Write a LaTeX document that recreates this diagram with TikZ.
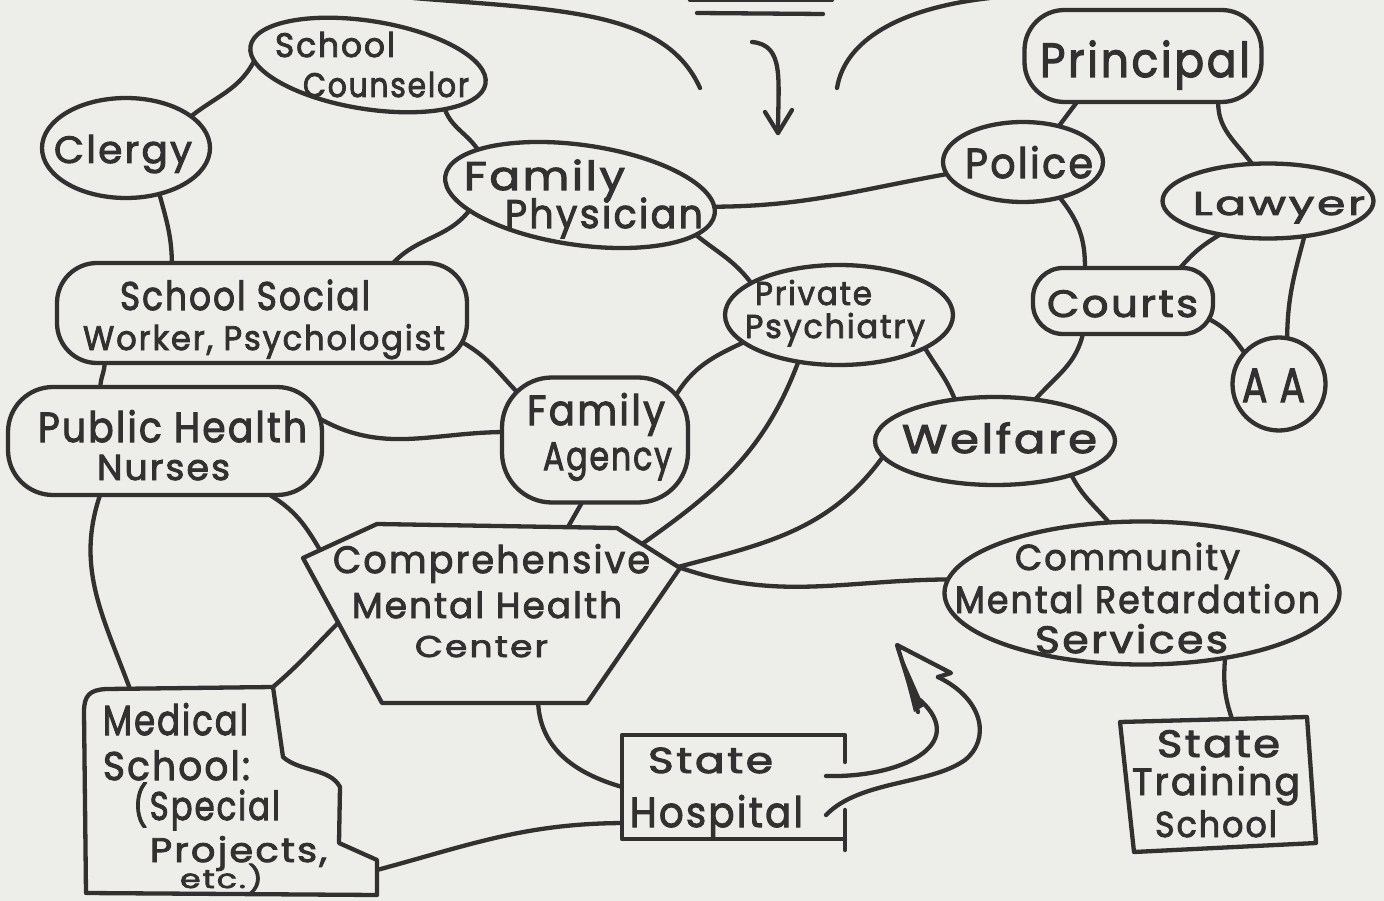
\documentclass[tikz,border=0pt]{standalone}
\usepackage{fontspec}
\setmainfont{Poppins}[LetterSpace=6, FakeBold=2.5]
\usepackage{graphicx}
\usetikzlibrary{shapes.geometric}
\definecolor{bg}{RGB}{237,237,233}
\definecolor{ink}{RGB}{50,48,48}
\pgfdeclarelayer{background}
\pgfsetlayers{background,main}
\newcommand{\hand}[3]{\resizebox{#1pt}{\height}{\fontsize{#2}{#2}\selectfont #3}}
\begin{document}
\begin{tikzpicture}[x=1pt,y=1pt,
  shp/.style={draw=ink, line width=4.3pt, fill=bg, inner sep=0pt, outer sep=0pt, line join=round},
  conn/.style={draw=ink, line width=4.3pt, line cap=round, shorten <=-5pt, shorten >=-5pt},
  lbl/.style={anchor=base west, inner sep=0pt, outer sep=0pt, text=ink},
  inkline/.style={draw=ink, line width=4.3pt, line cap=round, line join=round}]
\useasboundingbox (0,0) rectangle (1384,-901);
% shapes
\node[shp, ellipse, rotate=-9, minimum width=238pt, minimum height=88pt] (sc) at (368,-65) {};
\node[shp, ellipse, minimum width=168pt, minimum height=100pt] (clergy) at (126,-148) {};
\node[shp, ellipse, rotate=-8, minimum width=272pt, minimum height=100pt] (fp) at (580,-195) {};
\node[shp, ellipse, minimum width=160pt, minimum height=80pt] (police) at (1023,-162) {};
\node[shp, rounded corners=40pt, minimum width=237pt, minimum height=92pt] (principal) at (1143,-56) {};
\node[shp, ellipse, minimum width=211pt, minimum height=75pt] (lawyer) at (1268,-201) {};
\node[shp, rounded corners=30pt, minimum width=180pt, minimum height=66pt] (courts) at (1123,-301) {};
\node[shp, ellipse, minimum width=93pt, minimum height=93pt] (aa) at (1279,-384) {};
\node[shp, rounded corners=40pt, minimum width=410pt, minimum height=100pt] (ssw) at (262,-313) {};
\node[shp, ellipse, minimum width=228pt, minimum height=100pt] (pp) at (839,-315) {};
\node[shp, rounded corners=45pt, minimum width=314pt, minimum height=108pt] (phn) at (165,-441) {};
\node[shp, rounded corners=50pt, minimum width=186pt, minimum height=125pt] (fa) at (595,-440) {};
\node[shp, ellipse, minimum width=240pt, minimum height=88pt] (welfare) at (995,-441) {};
\node[shp, ellipse, minimum width=395pt, minimum height=143pt] (cmrs) at (1142,-593) {};
% comprehensive mental health center
\draw[shp] (303,-558) -- (377,-524) -- (617,-528) -- (680,-568) -- (587,-703) -- (382,-703) -- cycle;
\coordinate (cmhc-n) at (568,-527);
\coordinate (cmhc-nw) at (320,-550);
\coordinate (cmhc-w) at (338,-623);
\coordinate (cmhc-ne) at (642,-544);
\coordinate (cmhc-e) at (678,-567);
\coordinate (cmhc-s) at (538,-703);
% medical school
\draw[shp] (86,-893) -- (84,-712) .. controls (84,-695) and (90,-690) .. (106,-689) -- (273,-687) -- (283,-757) .. controls (300,-772) and (330,-768) .. (340,-787) -- (339,-843) -- (377,-860) -- (377,-895) -- cycle;
\coordinate (ms-n) at (130,-689);
\coordinate (ms-ne) at (273,-687);
\coordinate (ms-e) at (377,-870);
% state hospital
\fill[bg] (622,-735) rectangle (845,-839);
\draw[inkline] (845,-762) -- (845,-735) -- (622,-735) -- (622,-839) -- (845,-839);
\draw[inkline] (845,-810) -- (845,-850);
\coordinate (sh-w1) at (622,-787);
\coordinate (sh-w2) at (622,-823);
% state training school
\draw[shp] (1120,-722) -- (1307,-717) -- (1316,-843) -- (1134,-852) -- cycle;
\coordinate (sts-n) at (1232,-719);
% connectors
\begin{pgfonlayer}{background}
\fill[bg] (-2,2) rectangle (1386,-903);
\draw[conn] (clergy.26) to[out=40,in=245] (sc.187);
\draw[conn] (sc.339) to[out=-75,in=120] (fp.164);
\draw[conn] (clergy.306) to[out=-75,in=90] ([xshift=-90pt]ssw.north);
\draw[conn] (fp.196) to[out=235,in=50] ([xshift=131pt]ssw.north);
\draw[conn] (fp.3) to[out=0,in=190] (police.189);
\draw[conn] (fp.349) to[out=-40,in=125] (pp.160);
\draw[conn] (police.45) -- ([xshift=-66pt]principal.south);
\draw[conn] ([xshift=75pt]principal.south) to[out=-95,in=125] (lawyer.113);
\draw[conn] (police.316) to[out=-50,in=88] ([xshift=-38pt]courts.north);
\draw[conn] (lawyer.215) to[out=210,in=50] ([xshift=57pt]courts.north);
\draw[conn] (lawyer.316) to[out=255,in=90] (aa.80);
\draw[conn] ([xshift=86pt,yshift=-18pt]courts.center) to[out=-25,in=125] (aa.138);
\draw[conn] ([xshift=-40pt]courts.south) to[out=-100,in=50] (welfare.46);
\draw[conn] (pp.339) to[out=-60,in=110] (welfare.134);
\draw[conn] (welfare.336) to[out=-65,in=130] (cmrs.115);
\draw[conn] (welfare.188) to[out=235,in=15] (cmhc-e);
\draw[conn] (cmhc-e) to[out=-20,in=180] (cmrs.176);
\draw[conn] (pp.229) to[out=250,in=35] (cmhc-ne);
\draw[conn] (pp.196) to[out=205,in=60] ([xshift=-12pt,yshift=45pt]fa.east);
\draw[conn] ([yshift=-32pt]ssw.east) to[out=-30,in=135] ([xshift=-78pt,yshift=48pt]fa.center);
\draw[conn] ([xshift=-157pt]ssw.south) to[out=-85,in=95] ([xshift=-65pt]phn.north);
\draw[conn] ([yshift=21pt]phn.east) to[out=-30,in=180] ([yshift=8pt]fa.west);
\draw[conn] ([xshift=-13pt]fa.south) -- (cmhc-n);
\draw[conn] ([xshift=105pt]phn.south) to[out=-30,in=120] (cmhc-nw);
\draw[conn] ([xshift=-65pt]phn.south) to[out=250,in=110] (ms-n);
\draw[conn] (cmhc-w) to[out=225,in=40] (ms-ne);
\draw[conn] (cmhc-s) to[out=-90,in=165] (sh-w1);
\draw[conn] (ms-e) to[out=15,in=180] (sh-w2);
\draw[conn] (cmrs.322) to[out=-95,in=110] (sts-n);
\end{pgfonlayer}
% top decorations
\draw[inkline] (690,0) -- (832,0);
\draw[inkline] (697,-13) -- (823,-14);
\draw[inkline] (413,2) .. controls (560,-10) and (665,-10) .. (700,-88);
\draw[inkline] (837,-88) .. controls (845,-40) and (900,-8) .. (990,2);
\draw[inkline] (752,-42) .. controls (785,-45) and (778,-80) .. (778,-133);
\draw[inkline] (765,-112) -- (778,-133) -- (792,-110);
% curved arrow from state hospital
\draw[inkline] (826,-776) .. controls (900,-778) and (970,-745) .. (920,-700);
\draw[inkline] (826,-815) .. controls (860,-780) and (930,-785) .. (965,-760) .. controls (990,-740) and (985,-700) .. (938,-677);
\draw[inkline] (938,-677) -- (951,-673) -- (897,-645) -- (918,-712);
\fill[ink] (897,-645) -- (914,-712) -- (924,-706) -- cycle;
% labels
\node[lbl] (t1) at (275,-57) {\hand{120}{34}{School}};
\node[lbl] (t2) at (303,-97) {\hand{166}{34}{Counselor}};
\node[lbl] (t3) at (54,-163) {\hand{138}{38}{Clergy}};
\node[lbl] (t4) at (464,-190) {\hand{161}{40}{Family}};
\node[lbl] (t5) at (505,-228) {\hand{198}{40}{Physician}};
\node[lbl] (t6) at (1040,-77) {\hand{210}{48}{Principal}};
\node[lbl] (t7) at (965,-178) {\hand{128}{42}{Police}};
\node[lbl] (t8) at (1193,-215) {\hand{172}{33}{Lawyer}};
\node[lbl] (t9) at (1047,-317) {\hand{151}{38}{Courts}};
\node[lbl] (t10) at (1242,-402) {\hand{63}{48}{A A}};
\node[lbl] (t11) at (120,-310) {\hand{250}{40}{School Social}};
\node[lbl] (t12) at (83,-350) {\hand{362}{34}{Worker, Psychologist}};
\node[lbl] (t13) at (38,-442) {\hand{269}{42}{Public Health}};
\node[lbl] (t14) at (97,-480) {\hand{133}{36}{Nurses}};
\node[lbl] (t15) at (527,-425) {\hand{138}{42}{Family}};
\node[lbl] (t16) at (543,-470) {\hand{129}{40}{Agency}};
\node[lbl] (t17) at (333,-573) {\hand{317}{38}{Comprehensive}};
\node[lbl] (t18) at (352,-618) {\hand{270}{36}{Mental Health}};
\node[lbl] (t19) at (415,-657) {\hand{133}{30}{Center}};
\node[lbl] (t20) at (755,-305) {\hand{117}{33}{Private}};
\node[lbl] (t21) at (745,-338) {\hand{180}{33}{Psychiatry}};
\node[lbl] (t22) at (902,-453) {\hand{195}{40}{Welfare}};
\node[lbl] (t23) at (1015,-570) {\hand{225}{36}{Community}};
\node[lbl] (t24) at (955,-613) {\hand{365}{38}{Mental Retardation}};
\node[lbl] (t25) at (1035,-653) {\hand{193}{38}{Services}};
\node[lbl] (t26) at (103,-735) {\hand{145}{42}{Medical}};
\node[lbl] (t27) at (103,-780) {\hand{147}{40}{School:}};
\node[lbl] (t28) at (133,-820) {\hand{147}{40}{(Special}};
\node[lbl] (t29) at (150,-862) {\hand{177}{34}{Projects,}};
\node[lbl] (t30) at (180,-888) {\hand{83}{26}{etc.)}};
\node[lbl] (t31) at (648,-773) {\hand{125}{36}{State}};
\node[lbl] (t32) at (630,-827) {\hand{173}{42}{Hospital}};
\node[lbl] (t33) at (1157,-757) {\hand{123}{38}{State}};
\node[lbl] (t34) at (1132,-795) {\hand{168}{38}{Training}};
\node[lbl] (t35) at (1155,-837) {\hand{122}{36}{School}};
\end{tikzpicture}
\end{document}
